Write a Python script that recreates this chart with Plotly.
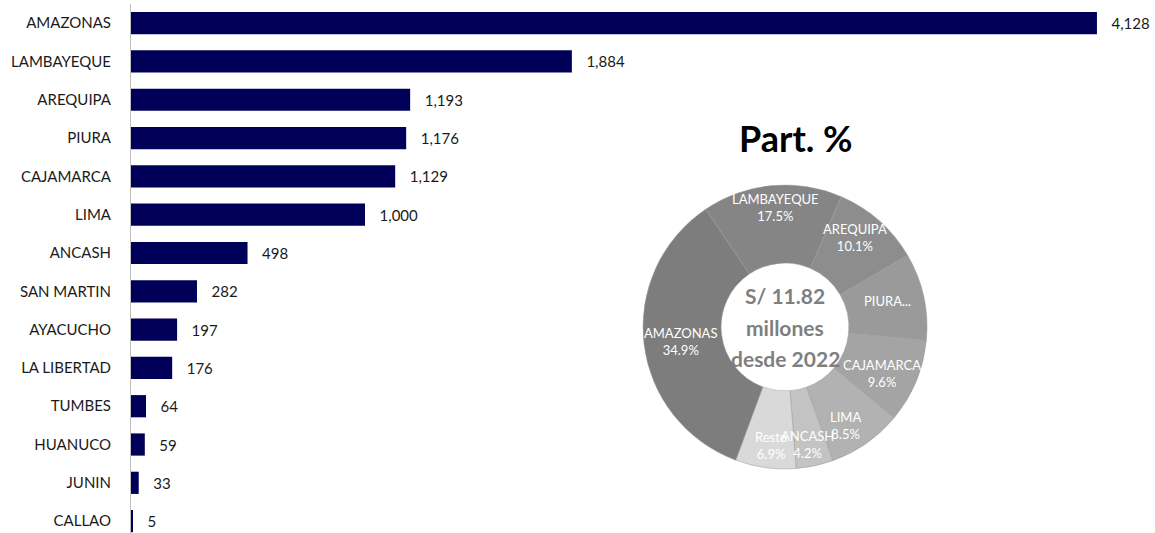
import math
import plotly.graph_objects as go

# ---- data ----
regiones = ["AMAZONAS", "LAMBAYEQUE", "AREQUIPA", "PIURA", "CAJAMARCA", "LIMA",
            "ANCASH", "SAN MARTIN", "AYACUCHO", "LA LIBERTAD", "TUMBES",
            "HUANUCO", "JUNIN", "CALLAO"]
montos = [4128, 1884, 1193, 1176, 1129, 1000, 498, 282, 197, 176, 64, 59, 33, 5]

pie_labels = ["LAMBAYEQUE", "AREQUIPA", "PIURA", "CAJAMARCA", "LIMA", "ANCASH", "Resto", "AMAZONAS"]
pie_values = [1884, 1193, 1176, 1129, 1000, 498, 816, 4128]
pie_text = ["LAMBAYEQUE<br>17.5%", "AREQUIPA<br>10.1%", "PIURA...", "CAJAMARCA<br>9.6%",
            "LIMA<br>8.5%", "ANCASH<br>4.2%", "Resto<br>6.9%", "AMAZONAS<br>34.9%"]
pie_colors = ["#858585", "#8d8d8d", "#9a9a9a", "#a4a4a4", "#b2b2b2", "#c3c3c3", "#d9d9d9", "#7d7d7d"]
centro_lineas = ["S/ 11.82", "millones", "desde 2022"]

FONT = "Lato"
W, H = 1155, 533
ML, MR, MT, MB = 131, 0, 4, 0
PW, PH = W - ML - MR, H - MT - MB

fig = go.Figure()
fig.add_trace(go.Bar(
    x=montos, y=regiones, orientation="h",
    marker=dict(color="#000058", line=dict(width=0)),
    width=0.58,
    text=[f"   {v:,}" for v in montos], textposition="outside",
    textfont=dict(family=FONT, size=15, color="#1a1a1a"),
    cliponaxis=False, showlegend=False,
))

# donut geometry (pixels)
cx, cy, R = 785, 327, 142
rot = -34
hole = 0.45
dom_x = [(cx - R - ML) / PW, (cx + R - ML) / PW]
dom_y = [(H - cy - R) / PH, (H - cy + R) / PH]

fig.add_trace(go.Pie(
    labels=pie_labels, values=pie_values, sort=False, direction="clockwise",
    rotation=rot, hole=hole, marker=dict(colors=pie_colors, line=dict(color="#9a9a9a", width=0.5)),
    textinfo="none", domain=dict(x=dom_x, y=dom_y), showlegend=False,
))


def to_paper(px, py):
    return (px - ML) / PW, (H - MB - py) / PH


def note(px, py, text, font):
    xp, yp = to_paper(px, py)
    fig.add_annotation(x=xp, y=yp, xref="paper", yref="paper", xanchor="center",
                       yanchor="middle", text=text, showarrow=False, font=font)


# slice labels at mid-angle
total = sum(pie_values)
cum = 0
rx_mid, ry_mid = 105, 120
for lab, v in zip(pie_text, pie_values):
    mid = rot + (cum + v / 2) / total * 360
    cum += v
    a = math.radians(mid)
    note(cx + rx_mid * math.sin(a), cy - ry_mid * math.cos(a), lab,
         dict(family=FONT, size=13, color="white"))

for i, line in enumerate(centro_lineas):
    note(cx, cy - 31 + 31 * i, line, dict(family=FONT, size=21, color="#7f7f7f", weight="bold"))
note(796, 138, "Part. %", dict(family=FONT, size=36, color="black", weight="bold"))

fig.update_layout(
    width=W, height=H,
    margin=dict(l=ML, r=MR, t=MT, b=MB, autoexpand=False),
    plot_bgcolor="white", paper_bgcolor="white",
    xaxis=dict(range=[0, PW / 0.234], visible=False),
    yaxis=dict(autorange=False, range=[13.31, -0.5], type="category",
               automargin=False,
               showline=True, linecolor="#bfbfbf", linewidth=1,
               ticks="", ticklabelstandoff=16,
               tickfont=dict(family=FONT, size=15, color="#1a1a1a"),
               showgrid=False, zeroline=False),
)

fig.write_html("out.html", config={"displayModeBar": False},
               post_script="document.body.style.margin='0';")
